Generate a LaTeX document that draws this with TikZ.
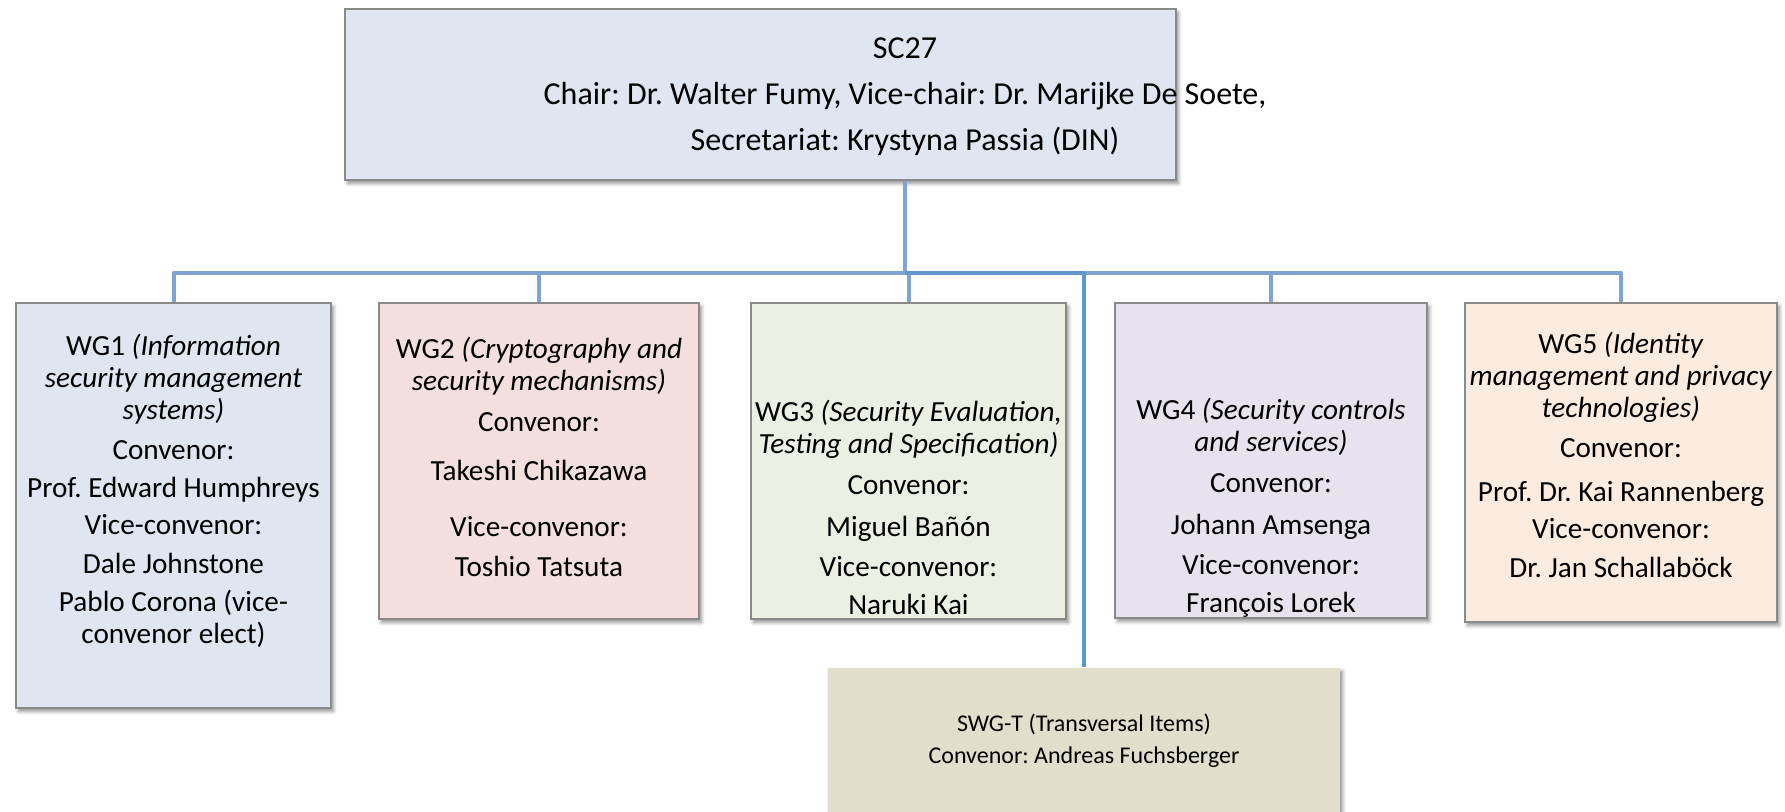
\documentclass[tikz,border=0pt]{standalone}
\usepackage{fontspec}
\setmainfont{Carlito}
\usepackage {tikz}
\usetikzlibrary {positioning}
\usetikzlibrary{shadows.blur}
\frenchspacing

\definecolor{boxline}{HTML}{8A8A8A}
\definecolor{linkblue}{HTML}{7FA4D3}
\definecolor{swgblue}{HTML}{6196CC}
\definecolor{scfill}{HTML}{DFE6F2}
\definecolor{wgonefill}{HTML}{DFE6F2}
\definecolor{wgtwofill}{HTML}{F2DFDE}
\definecolor{wgthreefill}{HTML}{ECF0E2}
\definecolor{wgfourfill}{HTML}{E6E3EE}
\definecolor{wgfivefill}{HTML}{FCEBDF}
\definecolor{swgfill}{HTML}{E1DECB}

\begin{document}
\begin{tikzpicture}[x=0.5pt, y=-0.5pt,
box/.style ={draw=boxline, line width=0.8pt, inner sep=0pt,
  blur shadow={shadow xshift=1.2pt, shadow yshift=-1.6pt, shadow blur steps=4, shadow opacity=45}},
txt/.style ={align=center, inner sep=0pt, font=\fontsize{14.6}{16}\selectfont},
edge/.style = {line width=2pt, draw=linkblue, line join=round}]

\useasboundingbox (0,0) rectangle (1785,811);

% boxes
\node[box, fill=scfill, minimum width=415.5pt, minimum height=85.5pt] (sc27) at (760.5,94.5) {};
\node[box, fill=wgonefill, minimum width=157.5pt, minimum height=202.5pt] (wg1) at (173.5,505.5) {};
\node[box, fill=wgtwofill, minimum width=160pt, minimum height=158pt] (wg2) at (539,461) {};
\node[box, fill=wgthreefill, minimum width=157.5pt, minimum height=158pt] (wg3) at (908.5,461) {};
\node[box, fill=wgfourfill, minimum width=156pt, minimum height=157.5pt] (wg4) at (1271,460.5) {};
\node[box, fill=wgfivefill, minimum width=156pt, minimum height=159.5pt] (wg5) at (1621,462.5) {};
\node[box, draw=none, fill=swgfill, minimum width=256pt, minimum height=81pt] (swg) at (1084,749) {};

% texts
\node[txt, font=\fontsize{16}{23}\selectfont] (sc27-txt) at (905,97)
  {SC27\\ Chair: Dr. Walter Fumy, Vice-chair: Dr. Marijke De Soete,\\ Secretariat: Krystyna Passia (DIN)};
\node[txt] (wg1-txt) at (173.5,491)
  {WG1 \textit{(Information}\\ \textit{security management}\\ \textit{systems)}\\[4pt]
   Convenor:\\[3pt] Prof. Edward Humphreys\\[2.5pt] Vice-convenor:\\[3.5pt] Dale Johnstone\\[3pt]
   Pablo Corona (vice-\\ convenor elect)};
\node[txt] (wg2-txt) at (539,457)
  {WG2 \textit{(Cryptography and}\\ \textit{security mechanisms)}\\[4.5pt]
   Convenor:\\[8.5pt] Takeshi Chikazawa\\[12pt] Vice-convenor:\\[4pt] Toshio Tatsuta};
\node[txt] (wg3-txt) at (908.5,507.5)
  {WG3 \textit{(Security Evaluation,}\\ \textit{Testing and Specification)}\\[4.5pt]
   Convenor:\\[5pt] Miguel Bañón\\[4pt] Vice-convenor:\\[3pt] Naruki Kai};
\node[txt] (wg4-txt) at (1271,507.5)
  {WG4 \textit{(Security controls}\\ \textit{and services)}\\[4.5pt]
   Convenor:\\[5pt] Johann Amsenga\\[4pt] Vice-convenor:\\[3pt] François Lorek};
\node[txt] (wg5-txt) at (1621,454.5)
  {WG5 \textit{(Identity}\\ \textit{management and privacy}\\ \textit{technologies)}\\[4pt]
   Convenor:\\[6pt] Prof. Dr. Kai Rannenberg\\[2.5pt] Vice-convenor:\\[3.5pt] Dr. Jan Schallaböck};
\node[txt, font=\fontsize{12}{16}\selectfont] (swg-txt) at (1084,741)
  {SWG-T (Transversal Items)\\ Convenor: Andreas Fuchsberger};

% connectors
\coordinate (bus) at (905,273);
\draw[edge] (sc27.south -| bus) -- (bus);
\draw[edge] (bus) -| (wg1.north);
\draw[edge] (bus) -| (wg2.north);
\draw[edge] (bus) -| (wg3.north);
\draw[edge] (bus) -| (wg4.north);
\draw[edge] (bus) -| (wg5.north);
\draw[edge, draw=swgblue] (bus) -| (swg.north);

\end{tikzpicture}
\end{document}
